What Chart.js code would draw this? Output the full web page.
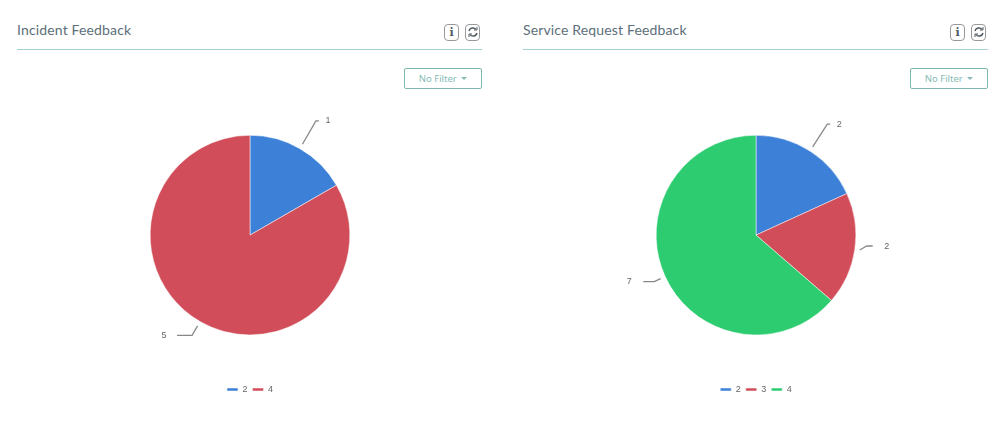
<!DOCTYPE html>
<html>
<head>
<meta charset="utf-8">
<title>Feedback</title>
<script src="https://cdn.jsdelivr.net/npm/chart.js@4/dist/chart.umd.min.js"></script>
<style>
    html, body { margin: 0; padding: 0; background: #fff; }
    body { width: 1000px; height: 447px; position: relative; overflow: hidden; font-family: "Noto Sans", sans-serif; }
    .panel { position: absolute; top: 0; left: 0; width: 465px; height: 447px; }
    .panel.right { left: 506px; }
    .panel h3 { position: absolute; left: 17px; top: 20px; margin: 0; font-family: Lato, sans-serif; font-size: 14px; line-height: 20px; font-weight: 400; letter-spacing: 0.15px; color: #5c6f7a; }
    .panel hr { position: absolute; left: 17px; top: 49px; width: 465px; margin: 0; border: 0; border-top: 1px solid #a5d0d3; }
    .icon { position: absolute; top: 24px; width: 13px; height: 15px; border: 1px solid #999; border-radius: 4px; color: #4f5a60; text-align: center; }
    .icon.info { left: 444px; font: bold 11px/15px "DejaVu Serif", serif; }
    .icon.refresh { left: 465px; }
    .icon svg { display: block; margin: 1px auto 0; }
    .filter { position: absolute; left: 404px; top: 68px; width: 76px; height: 19px; border: 1px solid #7db9ae; border-radius: 2px; color: #86bbb6; font-size: 9.5px; line-height: 19px; text-align: center; }
    .caret { display: inline-block; margin-left: 2px; vertical-align: 2px; border-left: 3px solid transparent; border-right: 3px solid transparent; border-top: 3px solid #86bbb6; }
    canvas { position: absolute; left: 17px; top: 100px; }
</style>
</head>
<body>
<div class="panel">
    <h3>Incident Feedback</h3>
    <div class="icon info">i</div>
    <div class="icon refresh"><svg width="12" height="12" viewBox="0 0 12 12" fill="none" stroke="#4f5a60" stroke-width="1.5"><path d="M2 5a4 4 0 0 1 7-1.6M10 7a4 4 0 0 1-7 1.6"/><path d="M10 1v3H7M2 11V8h3" stroke-width="1"/></svg></div>
    <hr>
    <div class="filter">No Filter <span class="caret"></span></div>
    <canvas id="incidentChart" width="466" height="310"></canvas>
</div>
<div class="panel right">
    <h3>Service Request Feedback</h3>
    <div class="icon info">i</div>
    <div class="icon refresh"><svg width="12" height="12" viewBox="0 0 12 12" fill="none" stroke="#4f5a60" stroke-width="1.5"><path d="M2 5a4 4 0 0 1 7-1.6M10 7a4 4 0 0 1-7 1.6"/><path d="M10 1v3H7M2 11V8h3" stroke-width="1"/></svg></div>
    <hr>
    <div class="filter">No Filter <span class="caret"></span></div>
    <canvas id="serviceChart" width="466" height="310"></canvas>
</div>
<script>
const incidentLabels = ['2', '4'];
const incidentValues = [1, 5];
const serviceLabels = ['2', '3', '4'];
const serviceValues = [2, 2, 7];
const sliceColors = ['#3d80d8', '#d14d59', '#2ecc71'];

// pie labels with an elbow line, the chart.js datalabels plugin can't do these
const leaderLines = {
    id: 'leaderLines',
    afterDatasetsDraw(chart) {
        const ctx = chart.ctx;
        const values = chart.data.datasets[0].data;

        chart.getDatasetMeta(0).data.forEach((arc, i) => {
            const mid = (arc.startAngle + arc.endAngle) / 2;
            const dx = Math.cos(mid);
            const dy = Math.sin(mid);
            const isTop = dy < -0.5;
            const isBottom = dy > 0.5;
            const isLeft = dx < 0;
            const elbowRadius = arc.outerRadius + (isTop ? 32 : (isBottom ? 16 : 12));
            const run = isTop ? 3 : (isBottom ? 15 : (isLeft ? 11 : 6));
            const lift = !isTop && !isBottom && !isLeft ? 5 : 0;
            const side = isLeft ? -1 : 1;
            const elbowX = arc.x + dx * elbowRadius;
            const elbowY = arc.y + dy * elbowRadius - lift;
            const endX = elbowX + side * run;
            const labelGap = isTop ? 9 : (isBottom ? 13 : 14);

            ctx.save();
            ctx.strokeStyle = '#888';
            ctx.lineWidth = 1.3;
            ctx.beginPath();
            ctx.moveTo(arc.x + dx * (arc.outerRadius + 5), arc.y + dy * (arc.outerRadius + 5));
            ctx.lineTo(elbowX, elbowY);
            ctx.lineTo(endX, elbowY);
            ctx.stroke();

            ctx.fillStyle = '#666';
            ctx.font = '9px "Liberation Sans", sans-serif';
            ctx.textAlign = 'center';
            ctx.textBaseline = 'middle';
            ctx.fillText(String(values[i]), endX + side * labelGap, elbowY);
            ctx.restore();
        });
    },
};

function buildFeedbackChart(canvas, labels, values) {
    return new Chart(canvas, {
        type: 'pie',
        data: {
            labels: labels,
            datasets: [
                {
                    data: values,
                    backgroundColor: sliceColors.slice(0, values.length),
                    borderColor: '#fff',
                    borderWidth: 0.5,
                },
            ],
        },
        options: {
            responsive: false,
            animation: false,
            layout: { padding: { top: 35, bottom: 6 } },
            plugins: {
                legend: {
                    position: 'bottom',
                    // empty title only pushes the legend down from the pie
                    title: { display: true, text: '', font: { size: 9 }, padding: { top: 34, bottom: 0 } },
                    labels: {
                        boxWidth: 11,
                        boxHeight: 3,
                        padding: 5,
                        color: '#666',
                        font: { family: '"Liberation Sans", sans-serif', size: 9 },
                    },
                },
                tooltip: { enabled: false },
            },
        },
        plugins: [leaderLines],
    });
}

buildFeedbackChart(document.getElementById('incidentChart'), incidentLabels, incidentValues);
buildFeedbackChart(document.getElementById('serviceChart'), serviceLabels, serviceValues);
</script>
</body>
</html>
